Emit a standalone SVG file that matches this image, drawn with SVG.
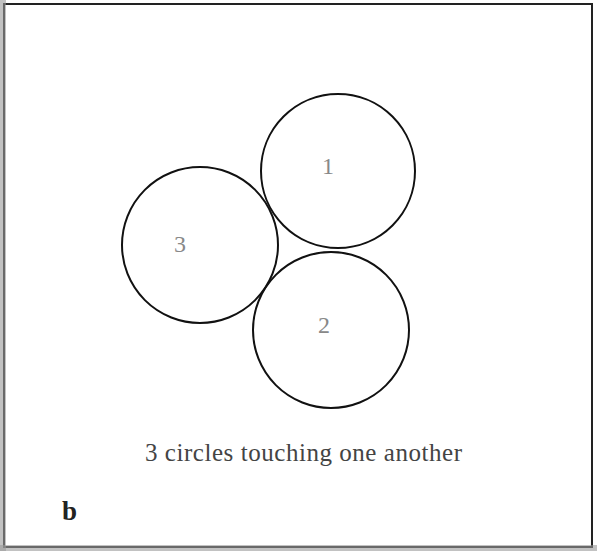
<svg xmlns="http://www.w3.org/2000/svg" width="597" height="551" viewBox="0 0 597 551">
<style>
.c{fill:none;stroke:#111;stroke-width:2}
.lbl{font-family:"Liberation Serif",serif;font-size:24px;fill:#888;text-anchor:middle}
</style>
<rect x="0" y="0" width="597" height="551" fill="#fff"/>
<rect x="4" y="4" width="588" height="543" fill="none" stroke="#222" stroke-width="2"/>
<rect x="0" y="0" width="6" height="551" fill="#999" opacity="0.6"/>
<rect x="0" y="545" width="597" height="6" fill="#999" opacity="0.6"/>
<g id="circle1"><circle class="c" cx="338" cy="171" r="77"/><text class="lbl" x="328" y="174">1</text></g>
<g id="circle3"><circle class="c" cx="200" cy="245" r="78"/><text class="lbl" x="180" y="252">3</text></g>
<g id="circle2"><circle class="c" cx="331" cy="330" r="78"/><text class="lbl" x="324" y="333">2</text></g>
<g id="connectors"></g>
<text x="145" y="461" font-family="'Liberation Serif',serif" font-size="25" fill="#444" textLength="317">3 circles touching one another</text>
<text x="62" y="520" font-family="'Liberation Serif',serif" font-size="27" font-weight="bold" fill="#222">b</text>
</svg>
